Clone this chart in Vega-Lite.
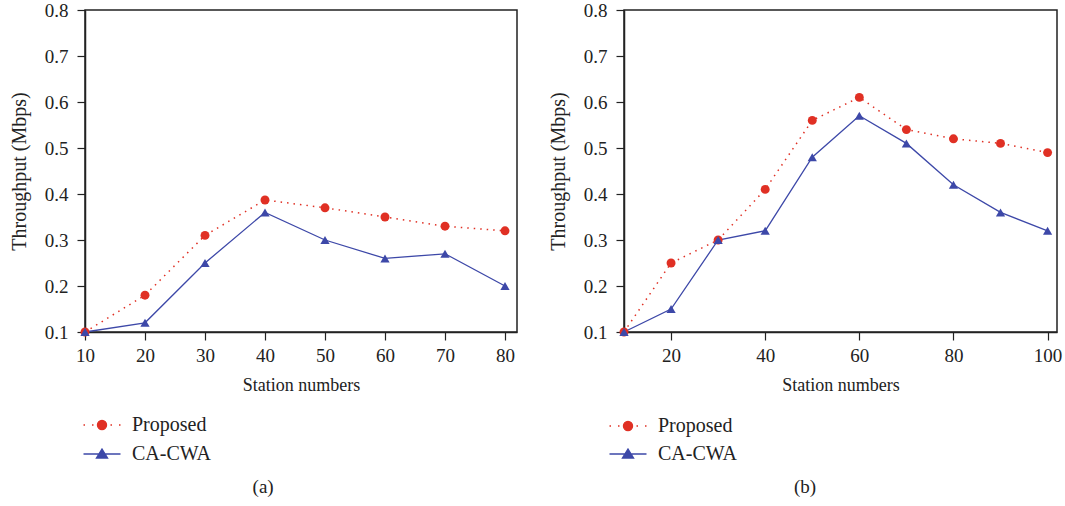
{
  "$schema": "https://vega.github.io/schema/vega-lite/v6.json",
  "padding": {"left": 8, "top": 0, "right": 8, "bottom": 0},
  "background": "white",
  "config": {
    "font": "Liberation Serif",
    "view": {"stroke": "#222", "strokeWidth": 1.5},
    "axis": {
      "grid": false,
      "labelFlush": false,
      "domainColor": "#222",
      "domainWidth": 1.5,
      "tickColor": "#222",
      "tickWidth": 1.2,
      "tickSize": 8,
      "labelFont": "Liberation Serif",
      "labelFontSize": 19,
      "labelColor": "#222",
      "titleFont": "Liberation Serif",
      "titleFontSize": 20,
      "titleFontWeight": "normal",
      "titleColor": "#222"
    },
    "legend": {
      "labelFont": "Liberation Serif",
      "labelFontSize": 20,
      "labelColor": "#222",
      "padding": 0,
      "symbolStrokeWidth": 1.4
    },
    "title": {"font": "Liberation Serif", "fontSize": 19, "fontWeight": "normal", "color": "#222"}
  },
  "datasets": {
    "a": [
      {"stations": 10, "throughput": 0.10, "series": "Proposed"},
      {"stations": 20, "throughput": 0.18, "series": "Proposed"},
      {"stations": 30, "throughput": 0.31, "series": "Proposed"},
      {"stations": 40, "throughput": 0.387, "series": "Proposed"},
      {"stations": 50, "throughput": 0.37, "series": "Proposed"},
      {"stations": 60, "throughput": 0.35, "series": "Proposed"},
      {"stations": 70, "throughput": 0.33, "series": "Proposed"},
      {"stations": 80, "throughput": 0.32, "series": "Proposed"},
      {"stations": 10, "throughput": 0.10, "series": "CA-CWA"},
      {"stations": 20, "throughput": 0.12, "series": "CA-CWA"},
      {"stations": 30, "throughput": 0.25, "series": "CA-CWA"},
      {"stations": 40, "throughput": 0.36, "series": "CA-CWA"},
      {"stations": 50, "throughput": 0.30, "series": "CA-CWA"},
      {"stations": 60, "throughput": 0.26, "series": "CA-CWA"},
      {"stations": 70, "throughput": 0.27, "series": "CA-CWA"},
      {"stations": 80, "throughput": 0.20, "series": "CA-CWA"}
    ],
    "b": [
      {"stations": 10, "throughput": 0.10, "series": "Proposed"},
      {"stations": 20, "throughput": 0.25, "series": "Proposed"},
      {"stations": 30, "throughput": 0.30, "series": "Proposed"},
      {"stations": 40, "throughput": 0.41, "series": "Proposed"},
      {"stations": 50, "throughput": 0.56, "series": "Proposed"},
      {"stations": 60, "throughput": 0.61, "series": "Proposed"},
      {"stations": 70, "throughput": 0.54, "series": "Proposed"},
      {"stations": 80, "throughput": 0.52, "series": "Proposed"},
      {"stations": 90, "throughput": 0.51, "series": "Proposed"},
      {"stations": 100, "throughput": 0.49, "series": "Proposed"},
      {"stations": 10, "throughput": 0.10, "series": "CA-CWA"},
      {"stations": 20, "throughput": 0.15, "series": "CA-CWA"},
      {"stations": 30, "throughput": 0.30, "series": "CA-CWA"},
      {"stations": 40, "throughput": 0.32, "series": "CA-CWA"},
      {"stations": 50, "throughput": 0.48, "series": "CA-CWA"},
      {"stations": 60, "throughput": 0.57, "series": "CA-CWA"},
      {"stations": 70, "throughput": 0.51, "series": "CA-CWA"},
      {"stations": 80, "throughput": 0.42, "series": "CA-CWA"},
      {"stations": 90, "throughput": 0.36, "series": "CA-CWA"},
      {"stations": 100, "throughput": 0.32, "series": "CA-CWA"}
    ]
  },
  "resolve": {
    "scale": {"x": "independent", "y": "independent", "fill": "independent", "stroke": "independent", "shape": "independent"},
    "legend": {"fill": "independent", "stroke": "independent", "shape": "independent"}
  },
  "spacing": 29,
  "hconcat": [
    {
      "width": 432,
      "height": 322,
      "data": {"name": "a"},
      "title": {"text": "(a)", "orient": "bottom", "anchor": "middle", "frame": "bounds", "offset": 14},
      "encoding": {
        "x": {"field": "stations", "type": "quantitative",
          "scale": {"domain": [10, 82], "nice": false, "zero": false},
          "axis": {"title": "Station numbers", "titleFontSize": 18, "values": [10, 20, 30, 40, 50, 60, 70, 80], "labelPadding": 6, "titlePadding": 11}},
        "y": {"field": "throughput", "type": "quantitative",
          "scale": {"domain": [0.1, 0.8], "nice": false, "zero": false},
          "axis": {"title": "Throughput (Mbps)", "values": [0.1, 0.2, 0.3, 0.4, 0.5, 0.6, 0.7, 0.8], "format": ".1f", "labelPadding": 9, "titlePadding": 15}}
      },
      "layer": [
        {
          "transform": [{"filter": "datum.series === 'Proposed'"}],
          "mark": {"type": "line", "color": "#e03024", "strokeWidth": 1.5, "strokeDash": [1.5, 5]}
        },
        {
          "transform": [{"filter": "datum.series === 'CA-CWA'"}],
          "mark": {"type": "line", "color": "#3d48a8", "strokeWidth": 1.3}
        },
        {
          "transform": [{"filter": "datum.series === 'Proposed'"}],
          "mark": {"type": "point", "shape": "circle", "filled": true, "color": "#e03024", "opacity": 1, "size": 80}
        },
        {
          "transform": [{"filter": "datum.series === 'CA-CWA'"}],
          "mark": {"type": "point", "shape": "triangle-up", "filled": true, "color": "#3d48a8", "opacity": 1, "size": 85}
        },
        {
          "mark": {"type": "point", "filled": true, "opacity": 1, "size": 0},
          "encoding": {
            "fill": {"field": "series", "type": "nominal",
              "scale": {"domain": ["Proposed", "CA-CWA"], "range": ["#e03024", "#3d48a8"]},
              "legend": {"title": null, "orient": "none", "legendX": -2, "legendY": 404, "symbolSize": 400, "symbolOffset": 8, "labelOffset": 19, "rowPadding": 8, "symbolStrokeWidth": 1.4}},
            "stroke": {"field": "series", "type": "nominal",
              "scale": {"domain": ["Proposed", "CA-CWA"], "range": ["#e03024", "#3d48a8"]},
              "legend": {"title": null, "orient": "none", "legendX": -2, "legendY": 404, "symbolSize": 400, "symbolOffset": 8, "labelOffset": 19, "rowPadding": 8, "symbolStrokeWidth": 1.4}},
            "shape": {"field": "series", "type": "nominal",
              "scale": {"domain": ["Proposed", "CA-CWA"], "range": [
                "M-1.85,0L-1.7,0M-1.0,0L-0.85,0M0.85,0L1.0,0M1.7,0L1.85,0M-0.45,0A0.45,0.45,0,1,1,0.45,0A0.45,0.45,0,1,1,-0.45,0Z",
                "M-1.85,0L1.85,0M0,-0.5L0.55,0.4L-0.55,0.4Z"]},
              "legend": {"title": null, "orient": "none", "legendX": -2, "legendY": 404, "symbolSize": 400, "symbolOffset": 8, "labelOffset": 19, "rowPadding": 8, "symbolStrokeWidth": 1.4}}
          }
        }
      ]
    },
    {
      "width": 433,
      "height": 322,
      "data": {"name": "b"},
      "title": {"text": "(b)", "orient": "bottom", "anchor": "middle", "frame": "bounds", "offset": 14},
      "encoding": {
        "x": {"field": "stations", "type": "quantitative",
          "scale": {"domain": [10, 102], "nice": false, "zero": false},
          "axis": {"title": "Station numbers", "titleFontSize": 18, "values": [20, 40, 60, 80, 100], "labelPadding": 6, "titlePadding": 11}},
        "y": {"field": "throughput", "type": "quantitative",
          "scale": {"domain": [0.1, 0.8], "nice": false, "zero": false},
          "axis": {"title": "Throughput (Mbps)", "values": [0.1, 0.2, 0.3, 0.4, 0.5, 0.6, 0.7, 0.8], "format": ".1f", "labelPadding": 9, "titlePadding": 15}}
      },
      "layer": [
        {
          "transform": [{"filter": "datum.series === 'Proposed'"}],
          "mark": {"type": "line", "color": "#e03024", "strokeWidth": 1.5, "strokeDash": [1.5, 5]}
        },
        {
          "transform": [{"filter": "datum.series === 'CA-CWA'"}],
          "mark": {"type": "line", "color": "#3d48a8", "strokeWidth": 1.3}
        },
        {
          "transform": [{"filter": "datum.series === 'Proposed'"}],
          "mark": {"type": "point", "shape": "circle", "filled": true, "color": "#e03024", "opacity": 1, "size": 80}
        },
        {
          "transform": [{"filter": "datum.series === 'CA-CWA'"}],
          "mark": {"type": "point", "shape": "triangle-up", "filled": true, "color": "#3d48a8", "opacity": 1, "size": 85}
        },
        {
          "mark": {"type": "point", "filled": true, "opacity": 1, "size": 0},
          "encoding": {
            "fill": {"field": "series", "type": "nominal",
              "scale": {"domain": ["Proposed", "CA-CWA"], "range": ["#e03024", "#3d48a8"]},
              "legend": {"title": null, "orient": "none", "legendX": -15, "legendY": 405, "symbolSize": 400, "symbolOffset": 8, "labelOffset": 19, "rowPadding": 7, "symbolStrokeWidth": 1.4}},
            "stroke": {"field": "series", "type": "nominal",
              "scale": {"domain": ["Proposed", "CA-CWA"], "range": ["#e03024", "#3d48a8"]},
              "legend": {"title": null, "orient": "none", "legendX": -15, "legendY": 405, "symbolSize": 400, "symbolOffset": 8, "labelOffset": 19, "rowPadding": 7, "symbolStrokeWidth": 1.4}},
            "shape": {"field": "series", "type": "nominal",
              "scale": {"domain": ["Proposed", "CA-CWA"], "range": [
                "M-1.85,0L-1.7,0M-1.0,0L-0.85,0M0.85,0L1.0,0M1.7,0L1.85,0M-0.45,0A0.45,0.45,0,1,1,0.45,0A0.45,0.45,0,1,1,-0.45,0Z",
                "M-1.85,0L1.85,0M0,-0.5L0.55,0.4L-0.55,0.4Z"]},
              "legend": {"title": null, "orient": "none", "legendX": -15, "legendY": 405, "symbolSize": 400, "symbolOffset": 8, "labelOffset": 19, "rowPadding": 7, "symbolStrokeWidth": 1.4}}
          }
        }
      ]
    }
  ]
}
